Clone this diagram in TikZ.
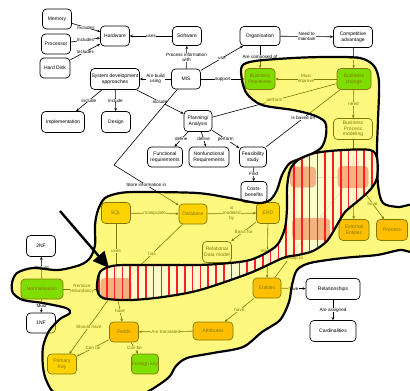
\documentclass[tikz,border=0pt]{standalone}
\usepackage{fontspec}
\setmainfont{Liberation Sans}
\usetikzlibrary{arrows.meta}
\definecolor{gnode}{RGB}{0,200,0}
\definecolor{goldn}{RGB}{255,178,0}
\definecolor{orng}{RGB}{255,140,0}
\definecolor{cream}{RGB}{255,252,222}
\definecolor{salm}{RGB}{244,178,128}
\definecolor{stripe}{RGB}{255,30,30}
\begin{document}
\begin{tikzpicture}[x=1pt,y=-1pt,
 nd/.style={draw=black, line width=0.7pt, rounded corners=4pt, align=center, inner sep=0.5pt, minimum height=20pt, font=\fontsize{5}{5.6}\selectfont},
 wn/.style={nd, fill=white},
 gn/.style={nd, fill=gnode},
 yn/.style={nd, fill=goldn},
 onode/.style={nd, fill=orng},
 con/.style={line width=0.6pt, -{Stealth[length=3pt,width=2.6pt]}},
 pl/.style={line width=0.6pt},
 lab/.style={fill=white, inner sep=0.3pt, font=\fontsize{4.6}{5.1}\selectfont, align=center},
 blob/.style={fill=yellow, fill opacity=0.5, draw=black, line width=2.2pt, line join=round},
 hatchline/.style={draw=black, line width=2.2pt, line join=round}]
\useasboundingbox (0,0) rectangle (410,391);
\clip (0,0) rectangle (410,391);
\fill[white] (0,0) rectangle (410,391);
% ---------- nodes ----------
\node[wn, minimum width=29pt] (mem) at (57,19) {Memory};
\node[wn, minimum width=29pt] (proc) at (56,44) {Processor};
\node[wn, minimum width=30pt] (hd) at (55,68) {Hard Disk};
\node[wn, minimum width=29pt] (hw) at (115,36) {Hardware};
\node[wn, minimum width=29pt, minimum height=19pt] (sw) at (187,36) {Software};
\node[wn, minimum width=40pt, minimum height=19pt] (org) at (260,36) {Organisation};
\node[wn, minimum width=39pt, minimum height=21pt] (comp) at (353,37) {Competitive\\advantage};
\node[wn, minimum width=49pt, minimum height=21pt] (sda) at (115,79) {System development\\approaches};
\node[wn, minimum width=29pt] (mis) at (186,79) {MIS};
\node[wn, minimum width=43pt, minimum height=21pt] (impl) at (63,122) {Implementation};
\node[wn, minimum width=29pt, minimum height=21pt] (des) at (116,122) {Design};
\node[wn, minimum width=28pt, minimum height=21pt] (plan) at (198,121) {Planning/\\Analysis};
\node[wn, minimum width=35pt] (func) at (165,157) {Functional\\requirements};
\node[wn, minimum width=40pt] (nonf) at (209,157) {Nonfunctional\\Requirements};
\node[wn, minimum width=27pt] (feas) at (253,157) {Feasibility\\study};
\node[wn, minimum width=26pt, minimum height=21pt] (cost) at (254,192) {Costs-\\benefits};
\node[gn, minimum width=30pt, minimum height=21pt] (bp) at (260,79) {Business\\Processes};
\node[gn, minimum width=34pt, minimum height=21pt] (bc) at (354,79) {Business\\change};
\node[wn, minimum width=39pt, minimum height=21pt] (bpm) at (353,129) {Business\\Process\\modeling};
\node[yn, minimum width=29pt, minimum height=21pt] (sql) at (116,213) {SQL};
\node[yn, minimum width=28pt] (db) at (193,214) {Database};
\node[yn, minimum width=23pt, minimum height=21pt] (erd) at (268,213) {ERD};
\node[wn, minimum width=29pt, minimum height=21pt] (rdm) at (217,252) {Relational\\Data model};
\node[onode, minimum width=30pt, minimum height=21pt] (tab) at (116,289) {};
\node[onode, minimum width=25pt] (h1) at (303,177) {};
\node[onode, minimum width=30pt, minimum height=21pt] (h2) at (353,177) {};
\node[onode, minimum width=37pt, minimum height=21pt] (h3) at (311,229) {};
\node[onode, minimum width=30pt, minimum height=21pt] (ext) at (354,230) {External\\Entities};
\node[onode, minimum width=31pt, minimum height=21pt] (procs) at (392,230) {Process};
\node[onode, minimum width=28pt] (ent) at (267,288) {Entities};
\node[onode, minimum width=29pt] (fields) at (124,332) {Fields};
\node[onode, minimum width=40pt, minimum height=18pt] (attr) at (213,331) {Attributes};
\node[yn, minimum width=29pt] (pk) at (62,364) {Primary\\Key};
\node[gn, minimum width=27pt] (fk) at (145,364) {Foreign key};
\node[wn, minimum width=29pt, minimum height=21pt] (nf2) at (41,246) {2NF};
\node[gn, minimum width=42pt] (norm) at (42,289) {Normalisation};
\node[wn, minimum width=29pt] (nf1) at (41,323) {1NF};
\node[wn, minimum width=54pt, minimum height=21pt] (rel) at (333,289) {Relationships};
\node[wn, minimum width=46pt, minimum height=21pt] (card) at (333,331) {Cardinalities};
\coordinate (bend) at (114,165);
\coordinate (arrS) at (60,211);
\coordinate (arrE) at (109,268);
% ---------- connectors ----------
\draw[con] (mem) -- node[lab]{Includes} (hw);
\draw[con] (proc) -- node[lab]{Includes} (hw);
\draw[con] (hd) -- node[lab]{Includes} (hw);
\draw[con] (sw) -- node[lab]{uses} (hw);
\draw[con] (mis) -- node[lab]{Process information\\with} (sw);
\draw[con] (mis) -- node[lab]{Are build\\using} (sda);
\draw[con] (mis) -- node[lab]{use} (org);
\draw[con] (mis) -- node[lab]{support} (bp);
\draw[con] (org) -- node[lab]{Are composed of} (bp);
\draw[con] (org) -- node[lab]{Need to\\maintain} (comp);
\draw[con] (comp) -- node[lab]{have} (bc);
\draw[con] (bc) -- node[lab]{Must\\improve} (bp);
\draw[pl] (plan) -- node[lab]{perform} (bc);
\draw[pl] (feas) -- node[lab]{Is based on} (bc);
\draw[con] (bc) -- node[lab]{need} (bpm);
\draw[con] (sda) -- node[lab]{include} (impl);
\draw[con] (sda) -- node[lab]{include} (des);
\draw[con] (sda) -- node[lab]{include} (plan);
\draw[con] (plan) -- node[lab]{define} (func);
\draw[con] (plan) -- node[lab]{define} (nonf);
\draw[con] (plan) -- node[lab]{perform} (feas);
\draw[con] (feas) -- node[lab]{Find} (cost);
\draw[con] (mis) -- (bend) -- node[lab]{Store information in} (db);
\draw[con] (sql) -- node[lab]{uses} (tab);
\draw[con] (sql) -- node[lab]{manipulate} (db);
\draw[con] (db) -- node[lab,pos=0.55]{has} (tab);
\draw[con] (db) -- node[lab]{is\\modeled\\by} (erd);
\draw[con] (erd) -- node[lab]{Basis for} (rdm);
\draw[con] (erd) -- node[lab]{lead to} (ent);
\draw[con] (ent) -- node[lab]{relationship to} (h3);
\draw[con] (bpm) -- node[lab]{is} (h2);
\draw[con] (h2) -- node[lab]{is a} (h1);
\draw[con] (h2) -- node[lab]{have} (h3);
\draw[con] (h2) -- node[lab]{is} (ext);
\draw[con] (h2) -- node[lab]{have} (procs);
\draw[con] (norm) -- node[lab]{Should} (nf2);
\draw[con] (norm) -- node[lab]{Must} (nf1);
\draw[con] (norm) -- node[lab]{Remove\\redundancy} (tab);
\draw[con] (tab) -- node[lab]{have} (fields);
\draw[con] (tab) -- node[lab]{Should have} (pk);
\draw[con] (fields) -- node[lab]{Can be} (pk);
\draw[con] (fields) -- node[lab]{Can be} (fk);
\draw[con] (attr) -- node[lab]{Are translated} (fields);
\draw[con] (ent) -- node[lab]{have} (attr);
\draw[con] (ent) -- node[lab]{have} (rel);
\draw[con] (rel) -- node[lab]{Are assigned} (card);
% ---------- yellow highlight ----------
\path[blob] plot[smooth cycle, tension=0.5] coordinates {
(242,66) (255,61) (293,58) (327,57) (360,58) (374,66) (379,82) (378,120) (377,150)
(378,185) (383,203) (398,207) (418,207) (418,250) (400,250) (377,255) (343,258)
(310,263) (297,270) (292,285) (289,302) (280,320) (262,332) (243,347) (213,353)
(187,358) (176,366) (170,376) (160,384) (140,395) (100,402) (58,395) (47,382)
(43,367) (43,347) (49,331) (60,319) (70,313) (66,308) (43,303) (23,300) (13,293)
(12,283) (17,273) (33,268) (58,270) (80,265) (90,258) (95,245) (95,225) (98,210)
(105,198) (120,193) (140,192) (197,193) (230,198) (258,203) (270,200) (277,190)
(282,175) (290,163) (305,157) (321,148) (326,135) (325,122) (313,115) (293,110)
(262,105) (247,94) (242,80)};
% ---------- hatched band ----------
\begin{scope}
\clip plot[smooth cycle, tension=0.5] coordinates {
(97,288) (100,272) (112,266) (130,265) (197,265) (230,263) (250,260) (266,253)
(278,244) (285,228) (287,208) (287,188) (290,170) (298,160) (315,153) (343,150)
(370,150) (377,158) (377,178) (370,190) (358,201) (345,212) (337,225) (327,241)
(313,251) (298,255) (283,258) (250,273) (200,290) (163,297) (130,300) (103,298)};
\fill[cream, opacity=0.82] (0,0) rectangle (410,391);
\foreach \n in {tab,h1,h2,h3}
  \fill[salm, rounded corners=4pt] (\n.south west) rectangle (\n.north east);
\foreach \k in {0,...,38}
  \draw[stripe, line width=1.7pt] ({99+\k*7.8},140) -- ({99+\k*7.8},310);
\end{scope}
\path[hatchline] plot[smooth cycle, tension=0.5] coordinates {
(97,288) (100,272) (112,266) (130,265) (197,265) (230,263) (250,260) (266,253)
(278,244) (285,228) (287,208) (287,188) (290,170) (298,160) (315,153) (343,150)
(370,150) (377,158) (377,178) (370,190) (358,201) (345,212) (337,225) (327,241)
(313,251) (298,255) (283,258) (250,273) (200,290) (163,297) (130,300) (103,298)};
% ---------- big arrow ----------
\draw[line width=2.4pt, -{Triangle[length=16pt,width=15pt]}] (arrS) -- (arrE);
\end{tikzpicture}
\end{document}
